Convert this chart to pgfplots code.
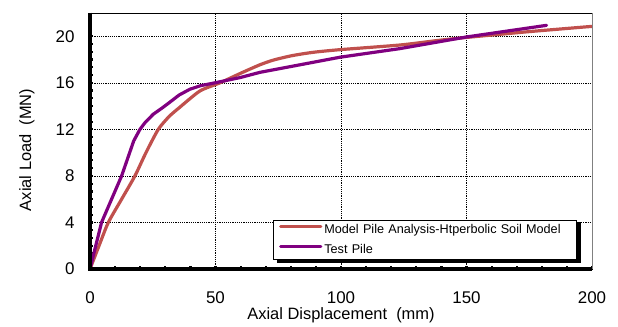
\documentclass[border=0pt]{standalone}
\usepackage{pgfplots}
\pgfplotsset{compat=1.18}
\usepackage{fontspec}
\setmainfont{Liberation Sans}
\definecolor{modelred}{RGB}{192,80,77}
\definecolor{testpurple}{RGB}{128,0,128}
\begin{document}
\begin{tikzpicture}
\begin{axis}[
  name=ax,
  scale only axis,
  width=502bp, height=256bp,
  xmin=0, xmax=200, ymin=0, ymax=22,
  xtick={0,50,100,150,200},
  ytick={0,4,8,12,16,20},
  minor x tick num=4,
  minor y tick num=5,
  tick align=inside,
  xtick pos=bottom, ytick pos=left,
  major tick length=3.5bp, minor tick length=3.5bp,
  every tick/.style={black, line width=2.2bp},
  grid=major,
  major grid style={black, line width=0.5pt, dash pattern=on 1.2pt off 1pt},
  axis line style={black, line width=0.8pt},
  tick label style={font=\fontsize{17}{20}\selectfont},
  /pgf/number format/assume math mode=true,
  xticklabel style={yshift=-19bp},
  yticklabel style={xshift=-12bp},
  xlabel={Axial Displacement\ \ (mm)},
  ylabel={Axial Load\ \ (MN)},
  label style={font=\fontsize{16.5}{19}\selectfont},
  xlabel style={at={(axis description cs:0.5,0)}, anchor=north, yshift=-35bp},
  ylabel style={at={(axis description cs:-0.1036,0.465)}, anchor=south},
  legend cell align=left,
  legend style={
    at={(0.9695,0.038)}, anchor=south east,
    draw=black, line width=0.7pt, fill=white,
    font=\fontsize{12.7}{14}\selectfont,
    inner xsep=6bp, inner ysep=1.5bp,
    row sep=6bp,
    text width=244bp,
  },
  legend image code/.code={\draw[#1, line width=3.2bp] (0bp,0.33em) -- (40bp,0.33em);},
]
\addplot[modelred, line width=3.2bp, line join=round, line cap=round, smooth, tension=0.4] coordinates {
(0,0) (3.6,2) (7.3,4) (12.6,6) (17.9,8) (22.3,10) (27.2,12) (31.5,13.1) (35.5,13.85) (43.8,15.3) (51.8,16) (59.8,16.8) (67.7,17.55) (73,17.95) (79.7,18.3) (85,18.5) (90,18.65) (99.6,18.85) (123.5,19.25) (139.4,19.66) (150,19.9) (175,20.4) (200,20.85)
};
\addlegendentry{Model Pile Analysis-Htperbolic Soil Model}
\addplot[testpurple, line width=3.2bp, line join=round, line cap=round] coordinates {
(0,0) (4.6,4) (12.6,8) (17.4,11) (19.9,12.0) (22,12.6) (25.2,13.3) (28.5,13.8) (31.9,14.35) (35.5,14.95) (39.8,15.45) (44,15.75) (49.1,15.97) (59.8,16.45) (67.7,16.9) (80,17.4) (99.6,18.2) (123.5,18.94) (150,19.94) (181.9,20.94)
};
\addlegendentry{Test Pile}
\end{axis}
\fill[black] ([shift={(487.0bp,6.2bp)}]ax.south west) rectangle ([shift={(490.5bp,46.5bp)}]ax.south west);
\fill[black] ([shift={(186.5bp,6.2bp)}]ax.south west) rectangle ([shift={(490.5bp,9.6bp)}]ax.south west);
\draw[black, line width=3.5bp] ([yshift=0.4bp]ax.north west) -- ([xshift=0bp]ax.south west) -- (ax.south east);
\draw[gray, line width=0.8pt] (ax.south east) -- (ax.north east);
\path ([xshift=-90bp,yshift=-58bp]ax.south west) rectangle ([xshift=26bp,yshift=13bp]ax.north east);
\end{tikzpicture}
\end{document}
